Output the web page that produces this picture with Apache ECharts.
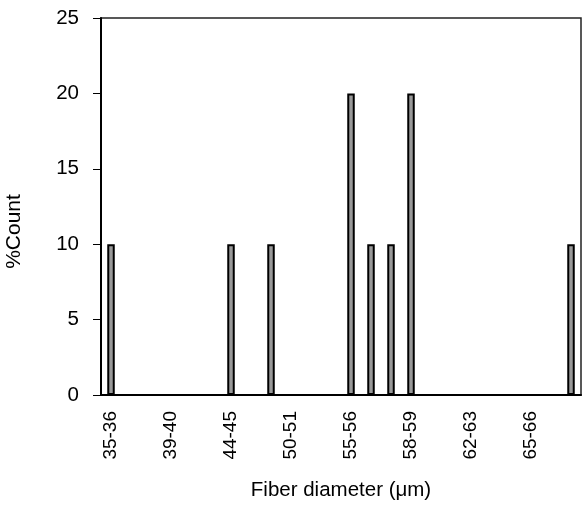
<!DOCTYPE html>
<html>
<head>
<meta charset="utf-8">
<script src="https://cdn.jsdelivr.net/npm/echarts@6/dist/echarts.min.js"></script>
<style>
  html, body { margin: 0; padding: 0; background: #fff; }
  #chart { width: 582px; height: 506px; }
</style>
</head>
<body>
<div id="chart"></div>
<script>
// fiber diameter bins (only every 3rd label is shown)
const categories = [
  '35-36', '36-37', '38-39', '39-40', '40-41', '42-43',
  '44-45', '46-47', '48-49', '50-51', '52-53', '53-54',
  '55-56', '56-57', '57-58', '58-59', '59-60', '61-62',
  '62-63', '63-64', '64-65', '65-66', '66-67', '67-68'
]
const countPercent = [
  10, 0, 0, 0, 0, 0,
  10, 0, 10, 0, 0, 0,
  20, 10, 10, 20, 0, 0,
  0, 0, 0, 0, 0, 10
]
const yTicks = [0, 25, 5]   // min, max, step

const chart = echarts.init(document.getElementById('chart'))

const option = {
  animation: false,
  textStyle: { fontFamily: 'Liberation Sans, Arial, sans-serif', color: '#000' },
  grid: {
    left: 101,
    right: 1,
    top: 18,
    bottom: 111,
    outerBoundsMode: 'none',
    show: true,
    borderColor: '#222',
    borderWidth: 1.5
  },
  xAxis: {
    type: 'category',
    data: categories,
    name: 'Fiber diameter (μm)',
    nameLocation: 'middle',
    nameGap: 85,
    nameTextStyle: { fontSize: 20.5, color: '#000' },
    axisLine: { lineStyle: { color: '#000', width: 2 } },
    axisTick: { interval: 0, length: 6, lineStyle: { color: '#000', width: 1 } },
    axisLabel: {
      interval: 2,
      rotate: 90,
      margin: 16,
      fontSize: 19,
      color: '#000'
    }
  },
  yAxis: {
    type: 'value',
    min: yTicks[0],
    max: yTicks[1],
    interval: yTicks[2],
    name: '%Count',
    nameLocation: 'middle',
    nameGap: 76,
    nameTextStyle: { fontSize: 21, color: '#000', padding: [0, 50, 0, 0] },
    axisLine: { show: true, lineStyle: { color: '#000', width: 2 } },
    axisTick: { show: true, length: 8, lineStyle: { color: '#000', width: 1 } },
    axisLabel: { margin: 22, fontSize: 20.5, color: '#000' },
    splitLine: { show: false }
  },
  series: [
    {
      type: 'bar',
      data: countPercent,
      barWidth: 7.5,
      itemStyle: {
        color: '#999999',
        borderColor: '#000',
        borderWidth: 2
      }
    }
  ]
}

chart.setOption(option)
</script>
</body>
</html>
